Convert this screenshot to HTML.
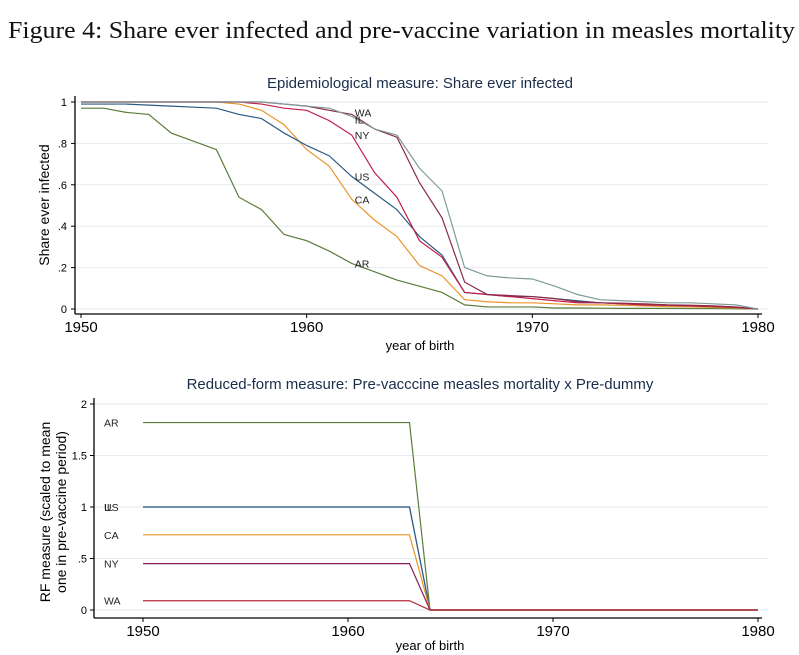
<!DOCTYPE html>
<html><head><meta charset="utf-8"><style>
body{margin:0;background:#fff;width:799px;height:655px;overflow:hidden}
svg{display:block;font-family:"Liberation Sans",sans-serif}
</style></head><body>
<svg id="fig" width="799" height="655">
<text x="8" y="38" textLength="787" lengthAdjust="spacingAndGlyphs" font-family="Liberation Serif,serif" font-size="24" fill="#111">Figure 4: Share ever infected and pre-vaccine variation in measles mortality</text>
<text x="420" y="88" text-anchor="middle" font-size="15" fill="#1a2e4a">Epidemiological measure: Share ever infected</text>
<text x="420" y="389" text-anchor="middle" font-size="15" fill="#1a2e4a">Reduced-form measure: Pre-vacccine measles mortality x Pre-dummy</text>
<g id="top"></g><g id="bot"></g>
</svg>
<script>
const years=[1950,1951,1952,1953,1954,1955,1956,1957,1958,1959,1960,1961,1962,1963,1964,1965,1966,1967,1968,1969,1970,1971,1972,1973,1974,1975,1976,1977,1978,1979,1980];
const AR=[.97,.97,.95,.94,.85,.81,.77,.54,.48,.36,.33,.28,.22,.18,.14,.11,.08,.02,.01,.01,.01,.005,.005,.004,.003,.003,.003,.002,.002,.001,0];
const US=[.99,.99,.99,.985,.98,.975,.97,.94,.92,.85,.79,.74,.64,.56,.48,.35,.26,.08,.07,.06,.06,.05,.04,.03,.025,.02,.018,.015,.012,.008,0];
const CA=[1,1,1,1,1,1,1,.99,.96,.89,.77,.69,.53,.43,.35,.21,.16,.045,.035,.03,.03,.025,.02,.02,.018,.015,.012,.01,.008,.005,0];
const NY=[1,1,1,1,1,1,1,1,.99,.97,.96,.91,.84,.66,.54,.33,.25,.08,.07,.06,.05,.04,.03,.03,.025,.02,.018,.015,.012,.008,0];
const WA=[1,1,1,1,1,1,1,1,1,.99,.98,.96,.94,.87,.83,.61,.44,.13,.07,.065,.06,.05,.035,.03,.028,.025,.02,.018,.015,.01,0];
const IL=[1,1,1,1,1,1,1,1,1,.99,.98,.97,.93,.87,.84,.68,.57,.2,.16,.15,.145,.11,.07,.045,.04,.035,.03,.03,.025,.02,0];
const topTicks=[0,.2,.4,.6,.8,1], topTickLabels=["0",".2",".4",".6",".8","1"];
const xTicks=[1950,1960,1970,1980];
const rfStates=["AR","IL","US","CA","NY","WA"];
const rfValues=[1.82,1.0,1.0,0.73,0.45,0.09];
const rfYears=[1950,1963,1964,1980];
const botTicks=[0,.5,1,1.5,2], botTickLabels=["0",".5","1","1.5","2"];
const NS="http://www.w3.org/2000/svg";
function mk(p,t,a){const e=document.createElementNS(NS,t);for(const k in a)e.setAttribute(k,a[k]);p.appendChild(e);return e;}
const tx=y=>81+(y-1950)*(758-81)/30, ty=v=>309-v*207;
const T=document.getElementById('top');
topTicks.forEach((v,i)=>{
 const g=mk(T,'line',{x1:75,x2:768,y1:ty(v),y2:ty(v),stroke:'#e6ebef','stroke-width':1});
 
 mk(T,'line',{x1:71,x2:75,y1:ty(v),y2:ty(v),stroke:'#000'});
 const t=mk(T,'text',{x:67,y:ty(v)+4,'text-anchor':'end','font-size':11});t.textContent=topTickLabels[i];
 
});
xTicks.forEach(y=>{
 mk(T,'line',{x1:tx(y),x2:tx(y),y1:314,y2:318,stroke:'#000'});
 const t=mk(T,'text',{x:tx(y),y:332,'text-anchor':'middle','font-size':15});t.textContent=y;
 
});
mk(T,'line',{x1:75,x2:75,y1:96,y2:314,stroke:'#000','stroke-width':1.3});
mk(T,'line',{x1:75,x2:762,y1:314,y2:314,stroke:'#000','stroke-width':1.3});
let t=mk(T,'text',{x:420,y:350,'text-anchor':'middle','font-size':13});t.textContent='year of birth';

t=mk(T,'text',{x:0,y:0,'text-anchor':'middle','font-size':14,transform:'translate(49,205) rotate(-90)'});t.textContent='Share ever infected';

const series=[["AR",AR,"#5a7d3a"],["CA",CA,"#e8952a"],["US",US,"#2c5a85"],["NY",NY,"#c41e4a"],["WA",WA,"#8c2a45"],["IL",IL,"#7f9a9a"]];
series.forEach(([n,d,c])=>{
 const p=mk(T,'polyline',{points:d.map((v,i)=>tx(years[i])+','+ty(v)).join(' '),fill:'none',stroke:c,'stroke-width':1.2});
 
 const i=years.indexOf(1962);
 const off={WA:-2,IL:3,NY:0,US:0,CA:0,AR:0}[n];
 const l=mk(T,'text',{x:tx(1962)+3,y:ty(d[i])+4+off,'font-size':10.5,fill:'#222'});l.textContent=n;
 
});
const bx=y=>143+(y-1950)*(758-143)/30, by=v=>610-v*103;
const B=document.getElementById('bot');
botTicks.forEach((v,i)=>{
 const g=mk(B,'line',{x1:94,x2:768,y1:by(v),y2:by(v),stroke:'#e6ebef'});
 
 mk(B,'line',{x1:90,x2:94,y1:by(v),y2:by(v),stroke:'#000'});
 const t=mk(B,'text',{x:87,y:by(v)+4,'text-anchor':'end','font-size':11});t.textContent=botTickLabels[i];
 
});
xTicks.forEach(y=>{
 mk(B,'line',{x1:bx(y),x2:bx(y),y1:618,y2:622,stroke:'#000'});
 const t=mk(B,'text',{x:bx(y),y:636,'text-anchor':'middle','font-size':15});t.textContent=y;
 
});
mk(B,'line',{x1:94,x2:94,y1:398,y2:618,stroke:'#000','stroke-width':1.3});
mk(B,'line',{x1:94,x2:762,y1:618,y2:618,stroke:'#000','stroke-width':1.3});
t=mk(B,'text',{x:430,y:650,'text-anchor':'middle','font-size':13});t.textContent='year of birth';

t=mk(B,'text',{x:0,y:0,'text-anchor':'middle','font-size':14,transform:'translate(50,512) rotate(-90)'});t.textContent='RF measure (scaled to mean';

t=mk(B,'text',{x:0,y:0,'text-anchor':'middle','font-size':14,transform:'translate(66,512) rotate(-90)'});t.textContent='one in pre-vaccine period)';

const rfColors={AR:"#5a7d3a",IL:"#7f9a9a",US:"#2c5a85",CA:"#e8952a",NY:"#8a1e5a",WA:"#b02a3a"};
rfStates.forEach((n,k)=>{
 const v=rfValues[k];
 const vals=[v,v,0,0];
 const p=mk(B,'polyline',{points:rfYears.map((y,i)=>bx(y)+','+by(vals[i])).join(' '),fill:'none',stroke:rfColors[n],'stroke-width':1.2});
 
 const l=mk(B,'text',{x:104,y:by(v)+4,'font-size':10.5,fill:'#222'});l.textContent=n;
 
});
</script>
</body></html>
